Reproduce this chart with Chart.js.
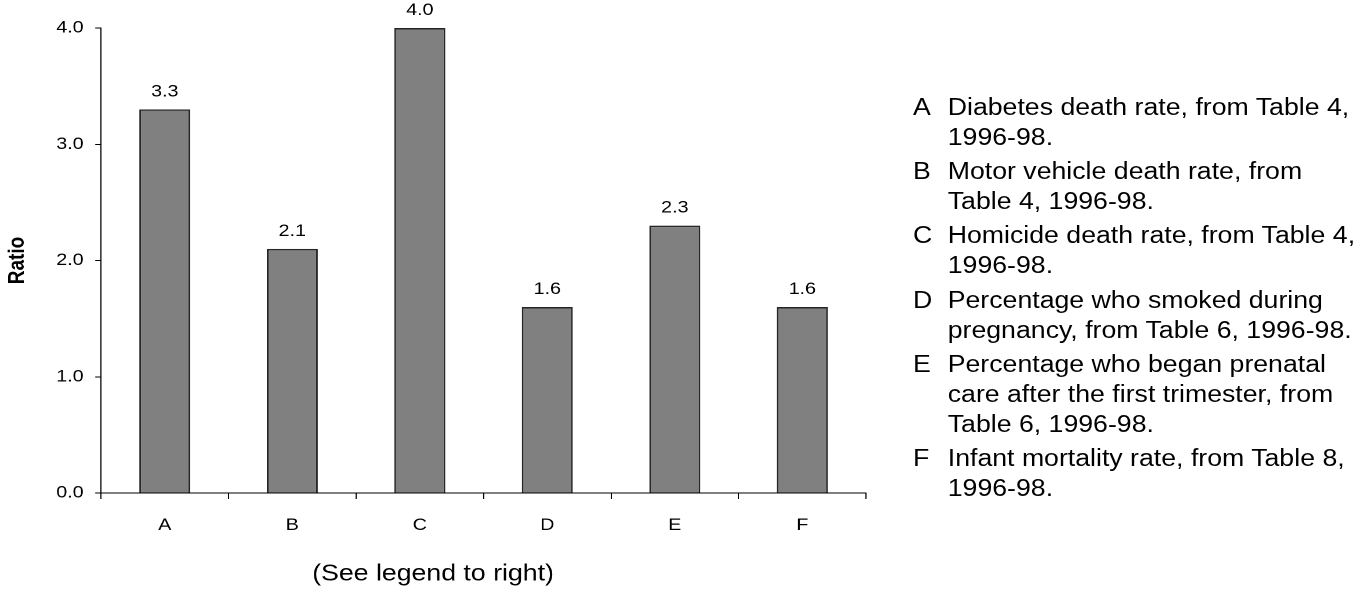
<!DOCTYPE html>
<html lang="en">
<head>
  <meta charset="UTF-8">
  <title>Ratio chart</title>
  <script src="https://cdn.jsdelivr.net/npm/chart.js"></script>
  <style>
    body {
      margin: 0;
      background: #fff;
      overflow: hidden;
      font-family: 'Liberation Sans', Arial, sans-serif;
    }
    /* the reference is a bit wider than tall, so draw narrow and stretch sideways */
    .stage {
      position: absolute;
      left: 0;
      top: 0;
      width: 1183px;
      height: 594px;
      transform: scaleX(1.16);
      transform-origin: 0 0;
    }
    #chart {
      position: absolute;
      left: 0;
      top: 0;
    }
    /* Legend on the right */
    .key {
      position: absolute;
      left: 787px;
      top: 92px;
      font-size: 23px;
      line-height: 30px;
      color: #000;
      white-space: nowrap;
    }
    .key div {
      position: relative;
      padding-left: 30px;
      margin-bottom: 4.2px;
    }
    .key span {
      position: absolute;
      left: 0;
      top: 0;
    }
  </style>
</head>
<body>

<div class="stage">
  <canvas id="chart" width="780" height="594"></canvas>
  <div class="key" id="key"></div>
</div>

<script>
  const categories = ['A', 'B', 'C', 'D', 'E', 'F'];
  const ratios = [3.3, 2.1, 4.0, 1.6, 2.3, 1.6];
  const yMin = 0;
  const yMax = 4;
  const yStep = 1;

  const keyLines = [
    ['Diabetes death rate, from Table 4,', '1996-98.'],
    ['Motor vehicle death rate, from', 'Table 4, 1996-98.'],
    ['Homicide death rate, from Table 4,', '1996-98.'],
    ['Percentage who smoked during', 'pregnancy, from Table 6, 1996-98.'],
    ['Percentage who began prenatal', 'care after the first trimester, from', 'Table 6, 1996-98.'],
    ['Infant mortality rate, from Table 8,', '1996-98.']
  ];

  // Build the legend text
  const keyDiv = document.getElementById('key');
  categories.forEach((c, i) => {
    keyDiv.innerHTML += `<div><span>${c}</span>${keyLines[i].join('<br>')}</div>`;
  });

  Chart.defaults.font.family = "'Liberation Sans', Arial, sans-serif";
  Chart.defaults.color = '#000';

  // Value above each bar
  const valueLabels = {
    id: 'valueLabels',
    afterDatasetsDraw(chart) {
      const ctx = chart.ctx;
      const bars = chart.getDatasetMeta(0).data;
      ctx.save();
      ctx.font = "17px 'Liberation Sans', Arial, sans-serif";
      ctx.fillStyle = '#000';
      ctx.textAlign = 'center';
      ctx.textBaseline = 'alphabetic';
      bars.forEach((bar, i) => {
        ctx.fillText(ratios[i].toFixed(1), bar.x, bar.y - 13);
      });
      ctx.restore();
    }
  };

  new Chart(document.getElementById('chart'), {
    type: 'bar',
    data: {
      labels: categories,
      datasets: [{
        data: ratios,
        backgroundColor: '#808080',
        borderColor: '#262626',
        borderWidth: 1.5,
        barPercentage: 0.4,
        categoryPercentage: 1
      }]
    },
    options: {
      responsive: false,
      animation: false,
      devicePixelRatio: 2,
      layout: { padding: { top: 28, right: 33.4, bottom: 0, left: 0 } },
      plugins: {
        legend: { display: false },
        tooltip: { enabled: false },
        title: {
          display: true,
          position: 'bottom',
          text: '(See legend to right)',
          color: '#000',
          font: { size: 23, weight: 'normal' },
          padding: { top: 0, bottom: 6 }
        }
      },
      scales: {
        x: {
          grid: { drawOnChartArea: false, color: '#000', tickLength: 6, offset: true },
          border: { color: '#000' },
          ticks: { color: '#000', font: { size: 17 }, padding: 16 },
          afterFit: s => { s.height = 67.4; }
        },
        y: {
          min: yMin,
          max: yMax,
          ticks: {
            stepSize: yStep,
            color: '#000',
            font: { size: 17 },
            padding: 10,
            callback: v => v.toFixed(1)
          },
          grid: { drawOnChartArea: false, color: '#000', tickLength: 5 },
          border: { color: '#000' },
          title: {
            display: true,
            text: 'Ratio',
            color: '#000',
            font: { size: 19, weight: 'bold' },
            padding: { top: 4, bottom: 0 }
          },
          afterFit: s => { s.width = 87.1; }
        }
      }
    },
    plugins: [valueLabels]
  });
</script>
</body>
</html>
